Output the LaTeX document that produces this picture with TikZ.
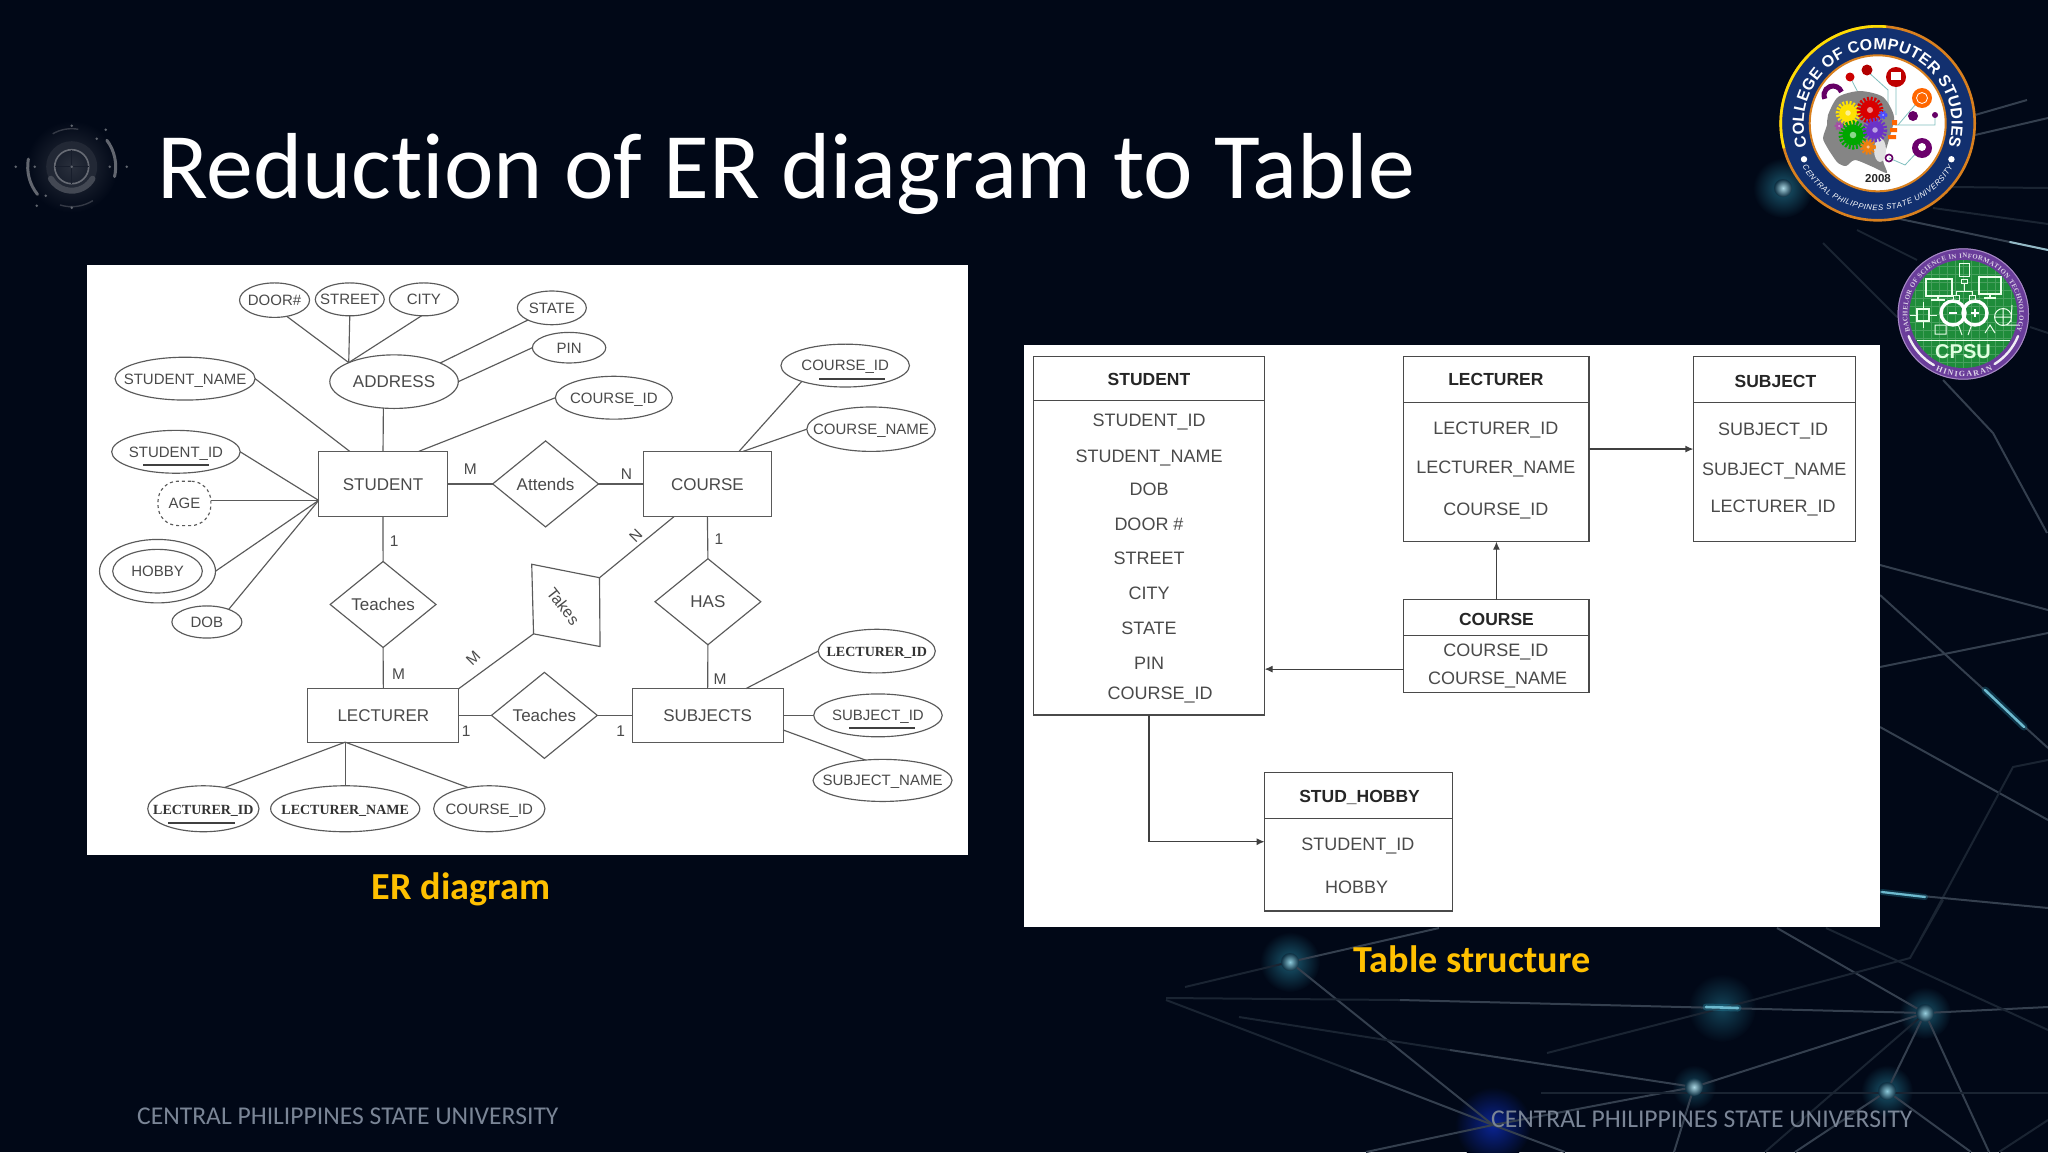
\documentclass[tikz,border=0pt]{standalone}
\usepackage{fontspec}
\setmainfont{Liberation Sans}
\newfontfamily\carl[Ligatures=CommonOff]{Carlito}
\newfontfamily\lserif{Liberation Serif}
\usetikzlibrary{shapes.geometric,decorations.text,arrows.meta,calc}
\definecolor{bgc}{HTML}{010817}
\definecolor{lineGray}{HTML}{5A5A5A}
\definecolor{txtGray}{HTML}{4A4A4A}
\definecolor{tabLine}{HTML}{4A4A4A}
\definecolor{gold}{HTML}{FFC000}
\definecolor{footc}{HTML}{7A8596}
\definecolor{bgA}{HTML}{343F4E}
\definecolor{bgB}{HTML}{1A2432}
\definecolor{glowc}{HTML}{2E9DBB}
\definecolor{navy}{HTML}{12306F}
\definecolor{rimo}{HTML}{D9801E}
\definecolor{purp}{HTML}{6A3D9A}
\definecolor{grn}{HTML}{1E8C3A}
\newcommand{\nowd}[1]{\makebox[0pt]{#1}}
\newcommand{\glowat}[4]{\shade[inner color=#4,outer color=bgc] (#1,#2) circle (#3);}
\newcommand{\coreat}[3]{\shade[inner color=#3,outer color=glowc!25!bgc] (#1,#2) circle (9);}
\newcommand{\gearic}[4]{\fill[#4] (#1,#2) circle (#3*.8);
  \draw[#4,line width=#3*.35pt,dash pattern=on 2pt off 1.6pt] (#1,#2) circle (#3*.95);
  \fill[white,opacity=.55] (#1,#2) circle (#3*.25);}
\tikzset{
  lnk/.style={draw=lineGray,line width=1.15pt},
  ell/.style 2 args={shape=ellipse,draw=lineGray,line width=1.15pt,inner sep=0pt,outer sep=0pt,
    minimum width=2.61224*#1pt,minimum height=2.61224*#2pt,font=\fontsize{15}{15}\selectfont,text=txtGray,
    text height=10.8pt,text depth=0pt},
  ebox/.style 2 args={shape=rectangle,draw=lineGray,line width=1.15pt,inner sep=0pt,outer sep=0pt,
    minimum width=1.30612*#1pt,minimum height=1.30612*#2pt,font=\fontsize{17}{17}\selectfont,text=txtGray,
    text height=12.2pt,text depth=0pt},
  rel/.style={shape=diamond,draw=lineGray,line width=1.15pt,inner sep=0pt,outer sep=0pt,
    minimum width=105.8pt,minimum height=86pt,font=\fontsize{17}{17}\selectfont,text=txtGray,
    text height=12.2pt,text depth=0pt},
  card/.style={inner sep=0pt,font=\fontsize{15.5}{15.5}\selectfont,text=txtGray},
  serifb/.style={font=\lserif\bfseries\fontsize{14}{14}\selectfont,text=black!80},
  ul/.style={draw=black!75,line width=1.8pt},
  tbox/.style 2 args={shape=rectangle,draw=tabLine,line width=1.2pt,inner sep=0pt,outer sep=0pt,
    minimum width=1.30612*#1pt,minimum height=1.30612*#2pt},
  tline/.style={draw=tabLine,line width=1.2pt},
  thead/.style={inner sep=0pt,font=\bfseries\fontsize{17.5}{17.5}\selectfont,text=black!85,text height=12.6pt,text depth=0pt},
  trow/.style={inner sep=0pt,font=\fontsize{18}{18}\selectfont,text=txtGray,text height=12.9pt,text depth=0pt},
  tarrow/.style={draw=black!75,line width=1.2pt,-{Latex[length=8pt,width=7pt]}},
  bgl/.style={draw=bgA,line width=2pt},
  bgf/.style={draw=bgB,line width=2pt},
  foot/.style={inner sep=0pt,anchor=base west,font=\carl\fontsize{25.6}{25.6}\selectfont,text=footc},
  capt/.style={inner sep=0pt,font=\carl\bfseries\fontsize{38.2}{38.2}\selectfont,text=gold},
}
\begin{document}
\begin{tikzpicture}[x=1pt,y=-1pt]
\useasboundingbox (0,0) rectangle (2048,1152);
\fill[bgc] (0,0) rectangle (2048,1152);
%% background glows
\glowat{1290}{962}{30}{glowc!55!bgc}
\glowat{1722}{1008}{34}{glowc!40!bgc}
\glowat{1925}{1013}{26}{glowc!50!bgc}
\glowat{1694}{1087}{22}{glowc!40!bgc}
\glowat{1887}{1091}{26}{glowc!55!bgc}
\glowat{1493}{1125}{38}{glowc!35!blue!60!bgc}
\glowat{1783}{188}{30}{glowc!55!bgc}
%% background lines
\draw[bgl] (1290,962) -- (1493,1125);
\draw[bgf] (1185,987) -- (1290,962);
\draw[bgl] (1290,962) -- (1439,928);
\draw[bgf] (1166,998) -- (1400,1000);
\draw[bgl] (1400,1000) -- (1722,1008) -- (1925,1013) -- (2048,1007);
\draw[bgf] (1166,1000) -- (1350,1070);
\draw[bgl] (1350,1070) -- (1493,1125);
\draw[bgf] (1239,1017) -- (1450,1050);
\draw[bgl] (1450,1050) -- (1694,1087);
\draw[bgl] (1694,1087) -- (1925,1013);
\draw[bgl] (1493,1125) -- (1694,1087);
\draw[bgl] (1694,1087) -- (1674,1152);
\draw[bgl] (1777,928) -- (1925,1013);
\draw[bgf] (1826,928) -- (2048,1030);
\draw[bgf] (1943,900) -- (1910,958) -- (1753,1000) -- (1547,1053);
\draw[bgl] (1925,1013) -- (1887,1091) -- (1795,1152);
\draw[bgf] (1925,1013) -- (1765,1152);
\draw[bgl] (1925,1013) -- (1989,1152);
\draw[bgl] (1887,1091) -- (1971,1152);
\draw[bgl] (1366,1152) -- (1493,1125) -- (1565,1152);
\draw[bgf] (1541,1093) -- (2048,1093);
\draw[bgf] (2048,1120) -- (1999,1152);
\draw[bgl] (1975,135) -- (2048,118);
\draw[bgl] (1975,115) -- (2027,100);
\draw[bgf] (1950,187) -- (2048,188);
\draw[bgf] (1933,208) -- (2048,224);
\draw[bgl] (1857,210) -- (2048,250);
\draw[bgf] (1857,230) -- (1917,260);
\draw[bgf] (1823,243) -- (1897,317);
\draw[bgl] (1943,380) -- (1993,433) -- (2047,533);
\draw[bgf] (2030,327) -- (2048,333);
\draw[bgl] (1880,565) -- (2048,610);
\draw[bgl] (1880,667) -- (2048,633);
\draw[bgl] (1880,595) -- (2048,748);
\draw[bgl] (1880,727) -- (2048,820);
\draw[bgf] (1920,940) -- (2013,767) -- (2048,760);
\draw[bgl] (1880,892) -- (2048,908);
%% bright streaks
\draw[draw=glowc,opacity=.28,line width=7pt,line cap=round] (1985,690) -- (2024,727);
\draw[draw=glowc!70!white,line width=2.4pt,line cap=round] (1985,690) -- (2024,727);
\draw[draw=glowc,opacity=.28,line width=6pt,line cap=round] (1882,892) -- (1925,897);
\draw[draw=glowc!70!white,line width=2.2pt,line cap=round] (1882,892) -- (1925,897);
\draw[draw=glowc!40!white,opacity=.8,line width=2pt,line cap=round] (2010,242) -- (2048,250);
\draw[draw=glowc,opacity=.3,line width=7pt,line cap=round] (1706,1007) -- (1738,1008);
\draw[draw=glowc!70!white,line width=2.6pt,line cap=round] (1706,1007) -- (1738,1008);
%% glow cores
\coreat{1290}{962}{glowc!55!white}
\coreat{1925}{1013}{glowc!50!white}
\coreat{1694}{1087}{glowc!40!white}
\coreat{1887}{1091}{glowc!55!white}
\coreat{1783}{188}{glowc!40!white}
%% left ornament
\begin{scope}[shift={(71.7,166.7)},y=1pt]
  \shade[inner color=white!16!bgc,outer color=bgc] (0,0) circle (46);
  \draw[draw=white!13!bgc,line width=9pt] (0,0) circle (21);
  \draw[draw=white!26!bgc,line width=6pt,line cap=round] (210:24) arc (210:330:24);
  \draw[draw=white!40!bgc,line width=1.6pt] (0,0) circle (17);
  \draw[draw=white!9!bgc,line width=1pt] (-17,0) -- (17,0) (0,-17) -- (0,17);
  \draw[draw=white!38!bgc,line width=3pt,line cap=round] (37:44) arc (37:-13:44);
  \draw[draw=white!38!bgc,line width=3pt,line cap=round] (170:44) arc (170:219:44);
  \draw[draw=white!20!bgc,line width=1.4pt] (120:38) arc (120:80:38);
  \draw[draw=white!20!bgc,line width=1.4pt] (253:40) arc (253:302:40);
  \foreach \px/\py in {0/41,34/37,-37/0,38/0,-35/-39,0/-41,-56/0,55/0,0/0,-26/-29,25/28}
    \fill[white!38!bgc] (\px,\py) circle (1.4);
\end{scope}
%% title
\node[inner sep=0pt,anchor=base west,text=white,font=\carl\fontsize{93.8}{93.8}\selectfont] (title) at (157,198) {Reduction of ER diagram to Table};
%% CCS logo
\begin{scope}[shift={(1877.7,123.3)},y=1pt]
  \fill[navy] (0,0) circle (97);
  \draw[rimo,line width=2.6pt] (0,0) circle (97);
  \draw[draw=yellow!80!orange,line width=2.6pt] (85:97) arc (85:195:97);
  \fill[white] (0,0) circle (68);
  \draw[rimo,line width=2pt] (0,0) circle (68);
  \path[decorate,decoration={text along path,text align={fit to path},text={|\bfseries\fontsize{16}{16}\selectfont\color{white}|COLLEGE OF COMPUTER STUDIES}}] (198:74) arc (198:-18:74);
  \path[decorate,decoration={text along path,text align={fit to path},text={|\itshape\fontsize{7.8}{7.8}\selectfont\color{white}|CENTRAL PHILIPPINES STATE UNIVERSITY}}] (210:87) arc (210:330:87);
  \fill[white] (206:82) circle (3.2) (-26:82) circle (3.2);
\end{scope}
\draw[draw=teal!50,line width=.8pt] (1850,77) -- (1866,108) (1866,70) -- (1888,90) -- (1888,115) (1896,77) -- (1896,115)
  (1921,98) -- (1898,125) (1895,125) -- (1935,125) -- (1935,115) (1921,148) -- (1905,165) -- (1889,158);
\fill[black!48] plot[smooth cycle,tension=.45] coordinates {(1828,115) (1838,97) (1860,91) (1883,97) (1894,117) (1888,143) (1883,160) (1887,173) (1873,167) (1855,160) (1846,166) (1838,163) (1832,155) (1827,147) (1823,138) (1827,125)};
\fill[white!88!black] (1880,150) ellipse (6 and 12);
\gearic{1848}{113}{11}{yellow!85!orange}
\gearic{1870}{110}{12}{red!85!black}
\gearic{1853}{135}{13}{green!65!black}
\gearic{1875}{130}{11}{violet!55!blue!80!white}
\gearic{1868}{147}{7}{orange!75!brown}
\gearic{1839}{126}{4}{violet!70!white}
\gearic{1883}{115}{4}{blue!70!white}
\fill[red!75!black] (1896,77) circle (10); \fill[white] (1891,72) rectangle (1901,80);
\fill[orange!80!red] (1922,98) circle (10); \draw[white,line width=.8pt] (1922,98) circle (5.5);
\fill[violet!85!black] (1922,148) circle (10); \fill[white] (1922,147) circle (4);
\fill[violet!80!black] (1913,116) circle (5); \fill[violet!80!black] (1935,115) circle (3);
\draw[violet!80!black,line width=1.6pt] (1889,158) circle (3.6);
\fill[red!70!black] (1867,70) circle (5.5); \fill[red!80!black] (1850,77) circle (4.5);
\begin{scope}[shift={(1833,95)},y=1pt]
  \draw[violet!80!black,line width=5pt] (20:9) arc (20:205:9);
\end{scope}
\fill[orange!80!red] (1890,128) rectangle (1897,132) (1888,135) rectangle (1896,139) (1892,120) rectangle (1897,125);
\node[inner sep=0pt,font=\bfseries\fontsize{11.5}{11.5}\selectfont,text=black!85] (yr) at (1878,179) {2008};
%% BSIT logo
\begin{scope}[shift={(1963.3,314)},y=1pt]
  \fill[purp] (0,0) circle (65.7);
  \draw[draw=purp!60!white,line width=1pt] (0,0) circle (65.2);
  \fill[grn] (0,0) circle (54);
  \clip (0,0) circle (54);
  \draw[draw=white,opacity=.18,line width=.5pt,step=8] (-56,-56) grid (56,56);
\end{scope}
\begin{scope}[shift={(1963.3,314)},y=1pt]
  \path[decorate,decoration={text along path,text align={fit to path},text={|\lserif\bfseries\fontsize{6.8}{6.8}\selectfont\color{purp!25!white}|BACHELOR OF SCIENCE IN INFORMATION TECHNOLOGY}}] (198:56) arc (198:-18:56);
  \path[decorate,decoration={text along path,text align={fit to path},text={|\lserif\bfseries\fontsize{8}{8}\selectfont\color{purp!20!white}|HINIGARAN}}] (244:63) arc (244:298:63);
  \draw[draw=white!90!purp,line width=2.4pt,line cap=round] (202:59) arc (202:240:59);
  \draw[draw=white!90!purp,line width=2.4pt,line cap=round] (-22:59) arc (-22:-58:59);
\end{scope}
\draw[draw=white!92!green,line width=1pt] (1917,340) -- (2010,340);
\draw[draw=white,line width=3.4pt] (1953,313) circle (12) (1975,313) circle (12);
\draw[draw=white,line width=1.4pt] (1949,313) -- (1957,313) (1971,313) -- (1979,313) (1975,309) -- (1975,317);
\draw[draw=white!92!green,line width=1.8pt] (1926,279) rectangle (1952,296) (1979,277) rectangle (2001,294);
\draw[draw=white!92!green,line width=1.6pt] (1938,296) -- (1938,300) (1931,300) -- (1945,300) (1990,294) -- (1990,298) (1984,298) -- (1996,298);
\draw[draw=white!92!green,line width=1pt] (1964,283) -- (1964,291) (1956,295) -- (1956,291) -- (1972,291) -- (1972,295) (1953,295) rectangle (1959,300) (1969,295) rectangle (1975,300) (1961,279) rectangle (1967,283);
\draw[draw=white!92!green,line width=1pt] (1959,263) rectangle (1969,276);
\draw[draw=white!92!green,line width=1.4pt] (1917,309) rectangle (1929,321);
\draw[draw=white!92!green,line width=1pt] (1910,315) -- (1917,315) (1929,315) -- (1937,315) (1923,302) -- (1923,309) (1923,321) -- (1923,328);
\draw[draw=white!92!green,line width=1pt] (2003,317) circle (8.5) (1995,317) -- (2011,317) (2003,309) -- (2003,325) (2011,322) -- (2012,305) (2003,325) -- (2018,325);
\draw[draw=white!92!green,line width=1pt] (1935,325) rectangle (1946,334) (1958,324) -- (1962,335) (1968,335) -- (1972,324) (1985,333) -- (1990,325) -- (1995,333);
\node[inner sep=0pt,font=\bfseries\fontsize{20}{20}\selectfont,text=green!12!white] (cpsu) at (1963,352) {CPSU};
%% white panels
\fill[white] (87,265) rectangle (968,855);
\fill[white] (1024,345) rectangle (1880,927);
%% ER diagram and tables in reference-scale units
\begin{scope}[x=1.30612pt,y=-1.30612pt]
  \node[ebox={98.5}{49.8}] (student) at (293.25,370.5) {STUDENT};
  \node[ebox={98.4}{49.8}] (course) at (541.6,370.5) {COURSE};
  \node[ebox={115.6}{41}] (lecturer) at (293.5,547.7) {LECTURER};
  \node[ebox={115.6}{41}] (subjects) at (541.8,547.7) {SUBJECTS};
  \node[rel] (attends) at (417.7,370.5) {\nowd{Attends}};
  \node[rel] (teachA) at (293.3,462.8) {\nowd{Teaches}};
  \node[rel] (has) at (542,460.7) {\nowd{HAS}};
  \node[rel] (teachB) at (416.8,547.7) {\nowd{Teaches}};
  \coordinate (tkNW) at (407.1,432);
  \coordinate (tkNE) at (459,442.3);
  \coordinate (tkSE) at (459.4,495);
  \coordinate (tkSW) at (408.5,485.3);
  \draw[lnk] (tkNW) -- (tkNE) -- (tkSE) -- (tkSW) -- cycle;
  \node[inner sep=0pt,rotate=-52,font=\fontsize{16}{16}\selectfont,text=txtGray] (takes) at (431.3,464.2) {Takes};
  \node[ell={26.8}{13.2}] (door) at (210.2,229.8) {\nowd{DOOR\#}};
  \node[ell={26.4}{12.6}] (street) at (267.8,229.2) {\nowd{STREET}};
  \node[ell={26.4}{12.6}] (city) at (324.5,229.2) {\nowd{CITY}};
  \node[ell={26.4}{12.9}] (state) at (422.5,235.7) {\nowd{STATE}};
  \node[ell={28.1}{11.7}] (pin) at (435.7,266.2) {\nowd{PIN}};
  \node[ell={49.2}{20.5},font=\fontsize{17}{17}\selectfont,text height=12.2pt] (address) at (301.7,292.2) {\nowd{ADDRESS}};
  \node[ell={53.6}{16.4}] (sname) at (141.7,289.9) {\nowd{STUDENT\_NAME}};
  \node[ell={44.8}{16.4}] (cidA) at (470,304.5) {\nowd{COURSE\_ID}};
  \node[ell={49.2}{16.4}] (cidB) at (647.1,279.9) {\nowd{COURSE\_ID}};
  \node[ell={49.2}{17}] (cname) at (666.9,328.6) {\nowd{COURSE\_NAME}};
  \node[ell={49.2}{16.4}] (sid) at (134.7,345.9) {\nowd{STUDENT\_ID}};
  \node[ell={20.2}{17},shape=rectangle,rounded corners=20pt,dashed,minimum width=52.8pt,minimum height=44.4pt] (age) at (141.2,385.4) {\nowd{AGE}};
  \node[ell={44.4}{24.3}] (hobbyO) at (120.6,437.3) {};
  \node[ell={34.3}{16.7}] (hobby) at (120.6,437.3) {\nowd{HOBBY}};
  \node[ell={26.8}{12.3}] (dob) at (158.4,476.2) {\nowd{DOB}};
  \node[ell={44.8}{16.7},serifb] (lidA) at (671.3,498.5) {\nowd{LECTURER\_ID}};
  \node[ell={49.2}{16.4}] (subid) at (672.2,547.7) {\nowd{SUBJECT\_ID}};
  \node[ell={53.2}{16.1}] (subname) at (675.7,597.5) {\nowd{SUBJECT\_NAME}};
  \node[ell={42.6}{17.6},serifb] (lidB) at (155.7,619.2) {\nowd{LECTURER\_ID}};
  \node[ell={57.1}{17.6},serifb] (lname) at (264.3,619.2) {\nowd{LECTURER\_NAME}};
  \node[ell={42.6}{17.6}] (cidC) at (374.6,619.2) {\nowd{COURSE\_ID}};
  \draw[ul] (109.6,355.8) -- (160.2,355.8);
  \draw[ul] (627.3,289.9) -- (677.9,289.9);
  \draw[ul] (650.2,557.1) -- (700.7,557.1);
  \draw[ul] (128.5,629.8) -- (180,629.8);
  %% junction points
  \coordinate (adrT) at (267,277.6);
  \coordinate (stuW) at (244,383.1);
  \coordinate (stuNa) at (267.8,345.6);
  \coordinate (stuNb) at (320.6,345.6);
  \coordinate (couNa) at (565.8,345.6);
  \coordinate (couNb) at (568.9,345.6);
  \coordinate (couSW) at (516.2,395.4);
  \coordinate (lecNE) at (351.3,527.2);
  \coordinate (subNr) at (571.1,527.2);
  \coordinate (subEa) at (599.6,558.9);
  \coordinate (lecB) at (264.3,568.2);
  %% connectors
  \draw[lnk] (door.-53) -- (adrT);
  \draw[lnk] (street.south) -- (adrT);
  \draw[lnk] (city.-98) -- (adrT);
  \draw[lnk] (state.207) -- (address.22);
  \draw[lnk] (pin.west) -- (address.east);
  \draw[lnk] (address.-112) -- (student.north);
  \draw[lnk] (sname.east) -- (stuNa);
  \draw[lnk] (cidA.west) -- (stuNb);
  \draw[lnk] (cidB.200) -- (couNa);
  \draw[lnk] (cname.west) -- (couNb);
  \draw[lnk] (sid.east) -- (stuW);
  \draw[lnk] (age.east |- stuW) -- (stuW);
  \draw[lnk] (hobbyO.east) -- (stuW);
  \draw[lnk] (dob.30) -- (stuW);
  \draw[lnk] (student.east) -- (attends.west);
  \draw[lnk] (attends.east) -- (course.west);
  \draw[lnk] (student.south) -- (teachA.north);
  \draw[lnk] (teachA.south) -- (lecturer.north);
  \draw[lnk] (course.south) -- (has.north);
  \draw[lnk] (has.south) -- (subjects.north);
  \draw[lnk] (couSW) -- (tkNE);
  \draw[lnk] (tkSW) -- (lecNE);
  \draw[lnk] (lecturer.east) -- (teachB.west);
  \draw[lnk] (teachB.east) -- (subjects.west);
  \draw[lnk] (lidA.west) -- (subNr);
  \draw[lnk] (subjects.east) -- (subid.west);
  \draw[lnk] (subEa) -- (subname.130);
  \draw[lnk] (lecB) -- (lidB.45);
  \draw[lnk] (lecB) -- (lname.north);
  \draw[lnk] (lecB) -- (cidC.135);
  %% cardinalities
  \node[card] (c1) at (360.1,359) {M};
  \node[card] (c2) at (479.7,363.1) {N};
  \node[card] (c3) at (301.7,414.4) {1};
  \node[card] (c4) at (305.2,516.1) {M};
  \node[card,rotate=45] (c5) at (486.7,410) {N};
  \node[card,rotate=45] (c6) at (362.3,503.8) {M};
  \node[card] (c7) at (550.4,413) {1};
  \node[card] (c8) at (551.3,520) {M};
  \node[card] (c9) at (357,560) {1};
  \node[card] (c10) at (475.3,560) {1};
  %% tables
  \node[tbox={177}{274.5}] (tStudent) at (879.7,410.15) {};
  \node[tbox={141.8}{141.8}] (tLect) at (1145.7,343.8) {};
  \node[tbox={123.8}{141.8}] (tSubj) at (1358.4,343.8) {};
  \node[tbox={141.8}{70.9}] (tCourse) at (1145.7,494.45) {};
  \node[tbox={143.6}{106.1}] (tHobby) at (1040,644.45) {};
  \draw[tline] (tStudent.west |- 0,306.6) -- (tStudent.east |- 0,306.6);
  \draw[tline] (tLect.west |- 0,308.1) -- (tLect.east |- 0,308.1);
  \draw[tline] (tSubj.west |- 0,308.1) -- (tSubj.east |- 0,308.1);
  \draw[tline] (tCourse.west |- 0,486.5) -- (tCourse.east |- 0,486.5);
  \draw[tline] (tHobby.west |- 0,626.6) -- (tHobby.east |- 0,626.6);
  \node[thead] (hS) at (879.7,290.2) {STUDENT};
  \node[thead] (hL) at (1145.3,290.2) {LECTURER};
  \node[thead] (hU) at (1359.3,292) {SUBJECT};
  \node[thead] (hC) at (1145.7,473.9) {COURSE};
  \node[thead] (hH) at (1040.9,609.6) {STUD\_HOBBY};
  \node[trow] (s1) at (879.7,321.5) {STUDENT\_ID};
  \node[trow] (s2) at (879.7,348.8) {STUDENT\_NAME};
  \node[trow] (s3) at (879.7,374.6) {DOB};
  \node[trow] (s4) at (879.7,401.2) {DOOR \#};
  \node[trow] (s5) at (879.7,427.6) {STREET};
  \node[trow] (s6) at (879.7,454) {CITY};
  \node[trow] (s7) at (879.7,480.6) {STATE};
  \node[trow] (s8) at (879.7,507.3) {PIN};
  \node[trow] (s9) at (888.3,530.5) {COURSE\_ID};
  \node[trow] (l1) at (1145.3,327.7) {LECTURER\_ID};
  \node[trow] (l2) at (1145.3,357.6) {LECTURER\_NAME};
  \node[trow] (l3) at (1145.3,389.5) {COURSE\_ID};
  \node[trow] (u1) at (1357.6,328.3) {SUBJECT\_ID};
  \node[trow] (u2) at (1358.4,359.3) {SUBJECT\_NAME};
  \node[trow] (u3) at (1357.6,387.8) {LECTURER\_ID};
  \node[trow] (c1r) at (1145.3,497.6) {COURSE\_ID};
  \node[trow] (c2r) at (1146.6,519) {COURSE\_NAME};
  \node[trow] (h1) at (1039.6,645.9) {STUDENT\_ID};
  \node[trow] (h2) at (1038.7,679.3) {HOBBY};
  \draw[tarrow] (tLect.east) -- (tSubj.west);
  \draw[tarrow] (tCourse.north) -- (tLect.south);
  \draw[tarrow] (tCourse.west |- 0,512.3) -- (tStudent.east |- 0,512.3);
  \draw[tarrow] (tStudent.south) |- (tHobby.west);
\end{scope}
%% captions and footers
\node[capt] (capER) at (461,889) {ER diagram};
\node[capt] (capTS) at (1472,959) {Table structure};
\node[foot] (ftL) at (137,1124) {CENTRAL PHILIPPINES STATE UNIVERSITY};
\node[foot] (ftR) at (1491,1127) {CENTRAL PHILIPPINES STATE UNIVERSITY};
\end{tikzpicture}
\end{document}
